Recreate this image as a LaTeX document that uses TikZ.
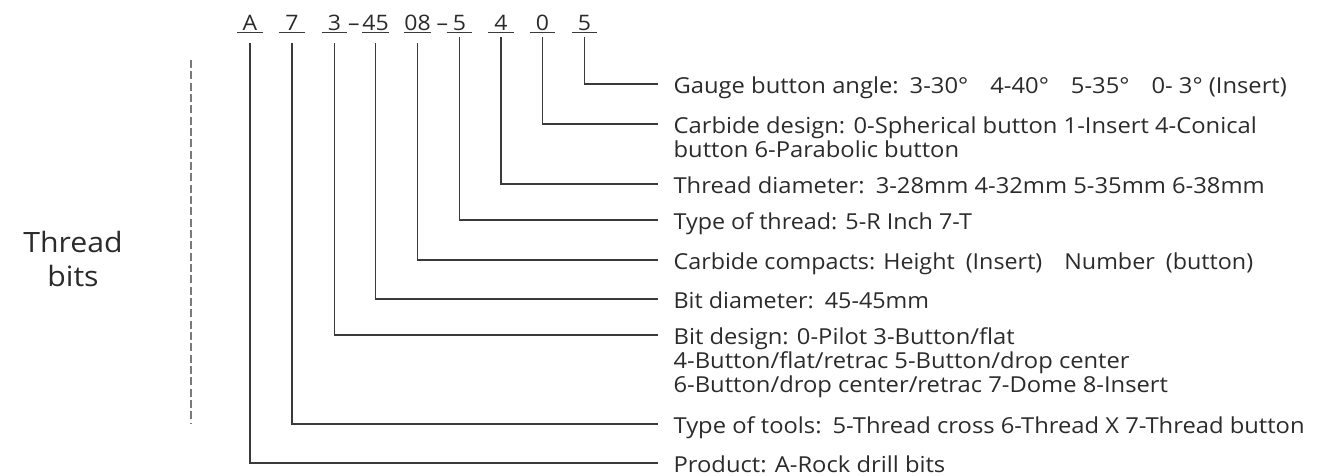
\documentclass[tikz,border=0pt]{standalone}
\usepackage{fontspec}
\setmainfont{Open Sans}[FakeStretch=1.08]
\newfontfamily\narrowfont[FakeStretch=1.06]{Open Sans}
\usetikzlibrary{calc}
\definecolor{ink}{HTML}{2B2B2B}
\definecolor{rule}{HTML}{3A3A3A}
\definecolor{dashgray}{HTML}{7A7A7A}

\begin{document}
\begin{tikzpicture}[
  x=0.75pt,y=-0.75pt,
  code/.style={anchor=base,text=ink,font=\fontsize{16}{18}\selectfont,minimum width=18.75pt,inner xsep=0pt,inner ysep=1.6pt,text depth=0pt},
  sep/.style={anchor=base,text=ink,font=\fontsize{16}{18}\selectfont,inner sep=0pt},
  desc/.style={anchor=base west,text=ink,align=left,font=\fontsize{16.5}{18}\selectfont,inner xsep=11.5pt,inner ysep=0pt},
  rule line/.style={rule,line width=1pt},
]
  \useasboundingbox (0,0) rectangle (1328,475);

  % Code line
  \node[code] (cA)  at (250,30)   {A};
  \node[code] (c7)  at (292,30)   {7};
  \node[code] (c3)  at (334.5,30) {3};
  \node[sep]  (s1)  at (354,30)   {--};
  \node[code] (c45) at (375.5,30) {45};
  \node[code] (c08) at (417.5,30) {08};
  \node[sep]  (s2)  at (442.5,30) {--};
  \node[code] (c5a) at (459.5,30) {5};
  \node[code] (c4)  at (501,30)   {4};
  \node[code] (c0)  at (542.5,30) {0};
  \node[code] (c5b) at (584.5,30) {5};
  \foreach \n in {cA,c7,c3,c45,c08,c5a,c4,c0,c5b}
    \draw[rule line] (\n.south west) -- (\n.south east);

  % Group label
  \node[text=ink,align=center,font=\fontsize{21}{25.5}\selectfont] (tBits) at (73,259) {Thread\\bits};
  \coordinate (gTop) at (191,60);
  \coordinate (gBot) at (191,423);
  \draw[dashgray,line width=1.5pt,dash pattern=on 6pt off 2.5pt] (gTop) -- (gBot);

  % Descriptions (base = last line)
  \node[desc] (dGauge) at (658,93) {Gauge button angle:\hspace{0.5em}3-30°\hspace{1em}4-40°\hspace{1em}5-35°\hspace{1em}0- 3° (Insert)};
  \node[desc] (dCarb) at (658,157) {Carbide design: 0-Spherical button 1-Insert 4-Conical\\button 6-Parabolic button};
  \node[desc] (dTdia) at (658,193) {Thread diameter:\hspace{0.5em}3-28mm 4-32mm 5-35mm 6-38mm};
  \node[desc,font=\fontsize{16.5}{18}\narrowfont] (dThr) at (658,229) {Type of thread: 5-R Inch 7-T};
  \node[desc,font=\fontsize{16.5}{18}\narrowfont] (dComp) at (658,269) {Carbide compacts: Height\hspace{0.5em}(Insert)\hspace{1em}Number\hspace{0.5em}(button)};
  \node[desc,font=\fontsize{16.5}{18}\narrowfont] (dDia) at (658,308) {Bit diameter:\hspace{0.5em}45-45mm};
  \node[desc] (dDesign) at (658,392) {Bit design: 0-Pilot 3-Button/flat\\4-Button/flat/retrac 5-Button/drop center\\6-Button/drop center/retrac 7-Dome 8-Insert};
  \node[desc] (dTool) at (658,433) {Type of tools:\hspace{0.5em}5-Thread cross 6-Thread X 7-Thread button};
  \node[desc] (dProd) at (658,472) {Product: A-Rock drill bits};

  % Leaders
  \foreach \c/\d/\g/\o in {cA/dProd/11/9,c7/dTool/11/9,c3/dDesign/11/57,c45/dDia/11/9,c08/dComp/11/9,c5a/dThr/5/9,c4/dTdia/5/9,c0/dCarb/5/33,c5b/dGauge/5/9}
    \draw[rule line] ($(\c.south)+(0,\g)$) |- ($(\d.base west)+(0,-\o)$);
\end{tikzpicture}
\end{document}
